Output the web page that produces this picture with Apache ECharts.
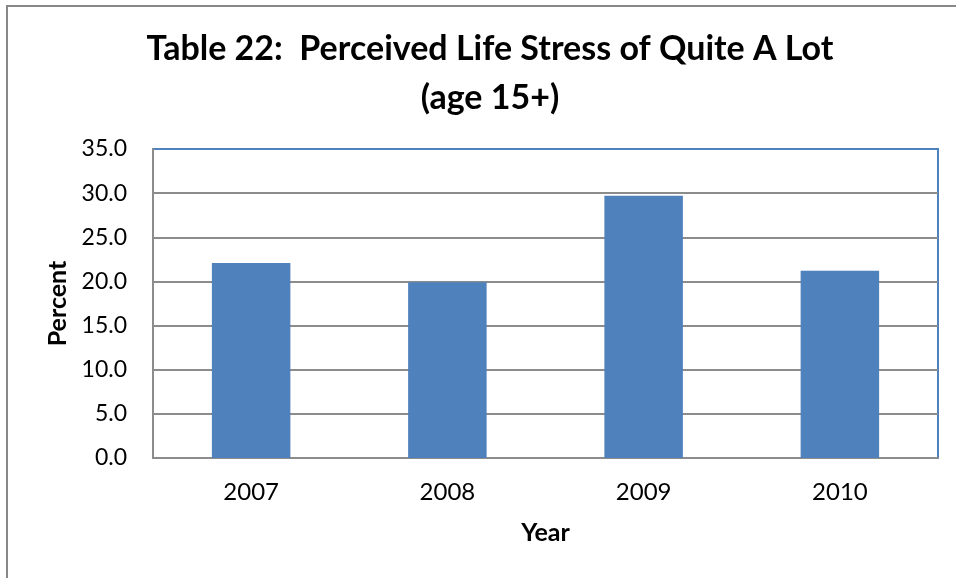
<!DOCTYPE html>
<html>
<head>
<meta charset="utf-8">
<script src="https://cdn.jsdelivr.net/npm/echarts@6/dist/echarts.min.js"></script>
<style>
html, body { margin: 0; padding: 0; background: #fff; }
#chart { width: 956px; height: 578px; }
</style>
</head>
<body>
<div id="chart"></div>
<script>
var years = ['2007', '2008', '2009', '2010'];
var percents = [22.1, 19.9, 29.7, 21.2];
var titleLines = ['Table 22:  Perceived Life Stress of Quite A Lot', '(age 15+)'];

var myChart = echarts.init(document.getElementById('chart'));
var gray = '#8c8c8c';
var blue = '#4f81bd';
var option = {
	backgroundColor: '#fff',
	animation: false,
	title: {
		text: titleLines.join('\n'),
		left: 485,
		textAlign: 'center',
		top: 20,
		textStyle: {
			fontFamily: 'Lato',
			fontWeight: 'bold',
			fontSize: 34,
			lineHeight: 49,
			color: '#000'
		}
	},
	graphic: [{
		type: 'rect',
		shape: { x: 7, y: 6, width: 1000, height: 1000 },
		style: { fill: null, stroke: '#888', lineWidth: 2 },
		silent: true
	}],
	grid: {
		left: 153,
		top: 149,
		right: 18,
		bottom: 120,
		show: true,
		borderColor: blue,
		borderWidth: 2
	},
	xAxis: {
		type: 'category',
		data: years,
		name: 'Year',
		nameLocation: 'middle',
		nameGap: 62,
		nameTextStyle: { fontFamily: 'Lato', fontWeight: 'bold', fontSize: 25, color: '#000' },
		axisLine: { lineStyle: { color: gray, width: 2 } },
		axisTick: { show: false },
		axisLabel: { fontFamily: 'Lato', fontSize: 24, color: '#000', margin: 22 }
	},
	yAxis: {
		type: 'value',
		min: 0,
		max: 35,
		interval: 5,
		name: 'Percent',
		nameLocation: 'middle',
		nameGap: 82,
		nameTextStyle: { fontFamily: 'Lato', fontWeight: 'bold', fontSize: 25, color: '#000' },
		axisLine: { show: true, lineStyle: { color: gray, width: 2 } },
		axisTick: { show: false },
		axisLabel: {
			fontFamily: 'Lato', fontSize: 23, color: '#000', margin: 26,
			formatter: function(v) { return v.toFixed(1); }
		},
		splitLine: {
			lineStyle: { color: [gray, gray, gray, gray, gray, gray, gray, blue], width: 2 }
		}
	},
	series: [{
		type: 'bar',
		data: percents,
		barWidth: '40%',
		itemStyle: { color: blue }
	}]
};
myChart.setOption(option);
</script>
</body>
</html>
